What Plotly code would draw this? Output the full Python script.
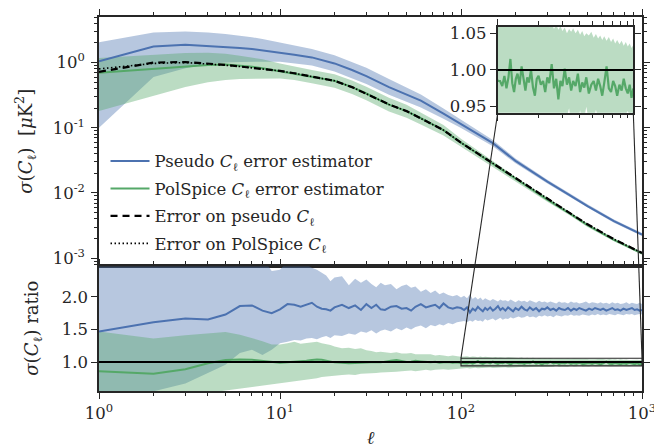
import math
import plotly.graph_objects as go

# ---------------- data ----------------
# top panel: multipole ell and sigma(C_ell) [muK^2]
ell_top = [1, 2, 3, 4, 5, 6, 7, 8, 10, 12, 15, 20, 25, 30, 40, 50, 60, 80, 100,
           150, 200, 300, 400, 500, 700, 1000]
pseudo_est = [1.05, 1.76, 1.87, 1.80, 1.72, 1.68, 1.62, 1.55, 1.42, 1.32, 1.20, 0.97,
              0.77, 0.62, 0.42, 0.32, 0.26, 0.165, 0.115, 0.058, 0.031, 0.0149,
              0.0092, 0.0063, 0.0037, 0.0023]
pseudo_est_lo = [0.10, 0.60, 0.82, 0.95, 1.00, 1.02, 1.03, 1.03, 1.03, 0.98, 0.90, 0.73,
                 0.58, 0.47, 0.32, 0.25, 0.205, 0.138, 0.099, 0.052, 0.0285, 0.0139,
                 0.0087, 0.0060, 0.0035, 0.00219]
pseudo_est_hi = [2.05, 2.90, 3.00, 2.90, 2.75, 2.60, 2.45, 2.30, 2.05, 1.85, 1.62, 1.30,
                 1.02, 0.83, 0.56, 0.42, 0.325, 0.198, 0.134, 0.065, 0.0338, 0.0160,
                 0.0098, 0.0067, 0.0039, 0.00242]
polspice_est = [0.70, 0.80, 0.87, 0.92, 0.93, 0.90, 0.86, 0.82, 0.74, 0.68, 0.61, 0.525,
                0.42, 0.335, 0.226, 0.18, 0.14, 0.092, 0.059, 0.028, 0.0163, 0.0079,
                0.0048, 0.0032, 0.0019, 0.00118]
polspice_est_lo = [0.18, 0.31, 0.42, 0.50, 0.54, 0.56, 0.57, 0.57, 0.57, 0.54, 0.48, 0.41,
                   0.33, 0.265, 0.178, 0.143, 0.112, 0.076, 0.051, 0.025, 0.0150, 0.0073,
                   0.0045, 0.0030, 0.00181, 0.00113]
polspice_est_hi = [1.17, 1.33, 1.40, 1.41, 1.36, 1.27, 1.19, 1.12, 0.97, 0.87, 0.77, 0.66,
                   0.53, 0.425, 0.288, 0.225, 0.172, 0.110, 0.068, 0.031, 0.0176, 0.0085,
                   0.0051, 0.0034, 0.00201, 0.00124]
err_pseudo = [0.72, 1.00, 1.02, 0.97, 0.92, 0.87, 0.83, 0.80, 0.745, 0.685, 0.605, 0.525,
              0.42, 0.335, 0.228, 0.18, 0.14, 0.092, 0.059, 0.0285, 0.0165, 0.0081,
              0.0049, 0.0033, 0.00195, 0.0012]
err_polspice = [0.80, 0.97, 1.00, 0.96, 0.91, 0.87, 0.83, 0.80, 0.745, 0.685, 0.605, 0.525,
                0.42, 0.335, 0.228, 0.18, 0.14, 0.092, 0.059, 0.0285, 0.0165, 0.0081,
                0.0049, 0.0033, 0.00195, 0.0012]

# bottom panel: ratio estimator / true error
ell_ratio = [1, 2, 3, 4, 5, 6, 7, 8, 9, 10, 11, 12, 13, 14, 15, 16, 17, 18, 19, 20,
             22, 24, 26, 28, 30, 32, 34, 36, 38, 41, 44, 47, 50, 53, 56, 60, 64, 68,
             72, 76, 80, 85, 90, 95, 100,
             104, 108, 112, 116, 120, 124, 128, 132, 136, 140, 145, 150, 155, 160, 165,
             170, 176, 182, 188, 194, 200, 208, 216, 224, 232, 240, 250, 260, 270, 280,
             290, 300, 312, 324, 336, 348, 360, 375, 390, 405, 420, 435, 450, 470, 490,
             510, 530, 550, 570, 590, 610, 635, 660, 685, 710, 735, 760, 790, 820, 850,
             880, 910, 940, 970, 1000]
ratio_pseudo = [1.47, 1.61, 1.67, 1.655, 1.73, 1.86, 1.87, 1.79, 1.75, 1.81, 1.89, 1.88,
                1.85, 1.88, 1.91, 1.85, 1.82, 1.81, 1.79, 1.84,
                1.88, 1.83, 1.87, 1.80, 1.89, 1.83, 1.88, 1.81, 1.80,
                1.85, 1.86, 1.82, 1.83, 1.79, 1.85,
                1.89, 1.84, 1.86, 1.88, 1.83, 1.90,
                1.84, 1.82, 1.84, 1.83,
                1.80, 1.84, 1.76, 1.82, 1.79, 1.85, 1.81, 1.78, 1.83, 1.80,
                1.84, 1.79, 1.82, 1.86, 1.80, 1.83,
                1.79, 1.84, 1.81, 1.78, 1.83,
                1.80, 1.85, 1.81, 1.79, 1.84,
                1.80, 1.83, 1.78, 1.82, 1.81, 1.84,
                1.80, 1.82, 1.79, 1.83, 1.81,
                1.80, 1.83, 1.79, 1.82, 1.80, 1.83,
                1.81, 1.79, 1.82, 1.80, 1.83, 1.81, 1.80, 1.82,
                1.79, 1.81, 1.83, 1.80, 1.81, 1.79,
                1.82, 1.80, 1.81, 1.83, 1.80, 1.81, 1.79, 1.80]
ratio_pseudo_lo = [0.30, 0.55, 0.67, 0.83, 0.96, 1.14, 1.19, 1.11, 1.19, 1.29, 1.31, 1.34,
                   1.33, 1.36, 1.37, 1.35, 1.38, 1.40, 1.37, 1.41,
                   1.40, 1.44, 1.42, 1.47, 1.45, 1.49, 1.44, 1.48, 1.50,
                   1.47, 1.52, 1.49, 1.53, 1.50, 1.54,
                   1.56, 1.52, 1.57, 1.55, 1.58, 1.56,
                   1.60, 1.58, 1.61, 1.62,
                   1.63, 1.61, 1.64, 1.62, 1.65, 1.63, 1.64, 1.62, 1.66, 1.64,
                   1.65, 1.67, 1.64, 1.66, 1.68, 1.65,
                   1.67, 1.66, 1.69, 1.67, 1.68,
                   1.70, 1.68, 1.69, 1.71, 1.69,
                   1.70, 1.68, 1.71, 1.70, 1.72, 1.70,
                   1.71, 1.69, 1.72, 1.71, 1.70,
                   1.72, 1.71, 1.73, 1.71, 1.72, 1.71,
                   1.73, 1.72, 1.71, 1.73, 1.72, 1.74, 1.72, 1.73,
                   1.72, 1.74, 1.73, 1.72, 1.74, 1.73,
                   1.72, 1.74, 1.73, 1.74, 1.72, 1.73, 1.74, 1.73]
ratio_pseudo_hi = [3.00, 3.20, 3.30, 3.10, 3.00, 2.90, 2.80, 2.60, 2.40, 2.42, 2.55, 2.60,
                   2.55, 2.50, 2.45, 2.42, 2.38, 2.33, 2.24, 2.30,
                   2.32, 2.18, 2.28, 2.22, 2.27, 2.20, 2.15, 2.22, 2.18,
                   2.20, 2.12, 2.17, 2.19, 2.14, 2.16,
                   2.08, 2.12, 2.06, 2.10, 2.04, 2.07,
                   2.03, 2.01, 2.03, 1.99,
                   2.02, 1.98, 2.04, 1.97, 2.00, 1.96, 1.99, 1.95, 1.98, 1.96,
                   1.94, 1.97, 1.95, 1.93, 1.96, 1.94,
                   1.95, 1.93, 1.96, 1.94, 1.92,
                   1.95, 1.93, 1.94, 1.92, 1.95,
                   1.93, 1.91, 1.94, 1.92, 1.93, 1.91,
                   1.93, 1.92, 1.90, 1.93, 1.91,
                   1.92, 1.90, 1.93, 1.91, 1.92, 1.90,
                   1.91, 1.93, 1.90, 1.92, 1.91, 1.90, 1.92, 1.90,
                   1.91, 1.89, 1.92, 1.90, 1.91, 1.89,
                   1.90, 1.92, 1.89, 1.91, 1.90, 1.89, 1.91, 1.89]
ratio_polspice = [0.86, 0.82, 0.89, 0.98, 1.03, 1.04, 1.035, 1.02, 1.00, 0.99, 0.995, 1.00,
                  1.01, 1.02, 1.03, 1.04, 1.035, 1.02, 1.00, 0.995,
                  0.99, 0.98, 0.985, 0.99, 1.00, 1.005, 1.00, 0.995, 1.01,
                  1.02, 1.03, 1.015, 1.00, 1.005, 1.02,
                  1.01, 1.00, 0.995, 1.005, 0.99, 0.995,
                  1.00, 0.99, 0.995, 0.985,
                  0.985, 0.978, 0.992, 0.975, 0.990, 1.015, 0.982, 0.970, 0.988, 0.995,
                  0.980, 1.005, 0.985, 0.972, 0.990, 0.983,
                  1.000, 0.976, 0.965, 0.988, 0.992,
                  0.980, 0.985, 0.970, 0.990, 0.982,
                  1.008, 0.975, 0.988, 0.960, 0.985, 0.978,
                  1.002, 0.980, 0.990, 0.972, 0.985,
                  0.978, 0.995, 0.970, 0.983, 0.976, 0.990,
                  0.968, 0.980, 0.985, 0.972, 0.988, 0.978, 0.965, 0.982,
                  1.005, 0.975, 0.970, 0.985, 0.978, 0.965,
                  0.980, 0.972, 0.988, 0.975, 0.968, 0.980, 0.962, 0.975]
ratio_polspice_lo = [0.30, 0.40, 0.48, 0.53, 0.57, 0.60, 0.62, 0.64, 0.66, 0.67, 0.69, 0.70,
                     0.71, 0.72, 0.74, 0.75, 0.77, 0.78, 0.79, 0.79,
                     0.80, 0.81, 0.80, 0.82, 0.82, 0.83, 0.83, 0.84, 0.84,
                     0.85, 0.85, 0.86, 0.86, 0.87, 0.86,
                     0.87, 0.88, 0.87, 0.88, 0.88, 0.89,
                     0.88, 0.89, 0.90, 0.90,
                     0.905, 0.910, 0.902, 0.908, 0.912, 0.906, 0.910, 0.915, 0.908, 0.912,
                     0.916, 0.910, 0.914, 0.918, 0.912, 0.916,
                     0.920, 0.914, 0.918, 0.922, 0.916,
                     0.920, 0.924, 0.918, 0.922, 0.926,
                     0.920, 0.924, 0.928, 0.922, 0.926, 0.930,
                     0.924, 0.928, 0.948, 0.926, 0.930,
                     0.934, 0.928, 0.945, 0.930, 0.934, 0.950,
                     0.930, 0.936, 0.932, 0.946, 0.934, 0.938, 0.932, 0.936,
                     0.940, 0.934, 0.938, 0.942, 0.936, 0.940,
                     0.938, 0.942, 0.936, 0.940, 0.944, 0.938, 0.942, 0.940]
ratio_polspice_hi = [1.47, 1.36, 1.41, 1.44, 1.46, 1.42, 1.37, 1.32, 1.27, 1.27, 1.29, 1.31,
                     1.28, 1.29, 1.30, 1.31, 1.29, 1.28, 1.26, 1.24,
                     1.21, 1.22, 1.20, 1.21, 1.18, 1.17, 1.15, 1.16, 1.15,
                     1.14, 1.15, 1.13, 1.13, 1.14, 1.12,
                     1.12, 1.11, 1.12, 1.10, 1.11, 1.10,
                     1.09, 1.10, 1.09, 1.08,
                     1.085, 1.090, 1.078, 1.086, 1.080, 1.075, 1.084, 1.072, 1.080, 1.074,
                     1.078, 1.070, 1.076, 1.068, 1.074, 1.070,
                     1.066, 1.073, 1.068, 1.064, 1.070,
                     1.062, 1.068, 1.060, 1.065, 1.058,
                     1.064, 1.056, 1.062, 1.055, 1.060, 1.053,
                     1.058, 1.050, 1.056, 1.052, 1.057,
                     1.050, 1.055, 1.048, 1.053, 1.046, 1.050,
                     1.047, 1.052, 1.044, 1.049, 1.043, 1.047, 1.041, 1.046,
                     1.040, 1.045, 1.038, 1.043, 1.036, 1.041,
                     1.035, 1.040, 1.033, 1.038, 1.032, 1.036, 1.030, 1.034]

# axis settings / tick labels
top_xrange = [1, 1000]
top_yrange = [7.47e-4, 5.0]
ratio_yrange = [0.555, 2.47]
inset_xrange = [100, 1000]
inset_yrange = [0.9418, 1.059]
decade_vals = [1, 10, 100, 1000]
decade_text = ["10<sup>0</sup>", "10<sup>1</sup>", "10<sup>2</sup>", "10<sup>3</sup>"]
top_yvals = [1e-3, 1e-2, 1e-1, 1]
top_ytext = ["10<sup>-3</sup>", "10<sup>-2</sup>", "10<sup>-1</sup>", "10<sup>0</sup>"]
ratio_yvals = [1.0, 1.5, 2.0]
ratio_ytext = ["1.0", "1.5", "2.0"]
inset_yvals = [0.95, 1.00, 1.05]
inset_ytext = ["0.95", "1.00", "1.05"]
reference_ratio = 1.0
top_ytitle = "<i>σ</i>(<i>C</i><sub>ℓ</sub>)  [<i>μ</i>K<sup>2</sup>]"
ratio_ytitle = "<i>σ</i>(<i>C</i><sub>ℓ</sub>) ratio"
xtitle = "<i>ℓ</i>"

# ---------------- style ----------------
BLUE = "#4C72B0"
GREEN = "#55A868"
BLUE_FILL = "rgba(76,114,176,0.4)"
GREEN_FILL = "rgba(85,168,104,0.4)"
AX = "#262626"
FONT = "DejaVu Serif"

W, H = 654, 448
ML, MR, MT, MB = 99, 12, 17, 57
split = 0.3332
inset_xdom = [0.7343, 0.9840]
inset_ydom = [0.7441, 0.9741]

minor_x = [m * d for d in (1, 10, 100) for m in range(2, 10)]
minor_y = [m * d for d in (1e-4, 1e-3, 1e-2, 1e-1, 1) for m in range(2, 10)]


def band(x, lo, hi, color, xa, ya):
    return go.Scatter(x=list(x) + list(x)[::-1], y=list(hi) + list(lo)[::-1],
                      fill="toself", fillcolor=color, mode="lines",
                      line=dict(width=0, color=color), hoverinfo="skip",
                      showlegend=False, xaxis=xa, yaxis=ya)


fig = go.Figure()

# top panel
fig.add_trace(band(ell_top, pseudo_est_lo, pseudo_est_hi, BLUE_FILL, "x", "y"))
fig.add_trace(band(ell_top, polspice_est_lo, polspice_est_hi, GREEN_FILL, "x", "y"))
fig.add_trace(go.Scatter(x=ell_top, y=pseudo_est, mode="lines",
                         line=dict(color=BLUE, width=2),
                         name="Pseudo <i>C</i><sub>ℓ</sub> error estimator",
                         legendgroup="a", xaxis="x", yaxis="y"))
fig.add_trace(go.Scatter(x=ell_top, y=polspice_est, mode="lines",
                         line=dict(color=GREEN, width=2),
                         name="PolSpice <i>C</i><sub>ℓ</sub> error estimator",
                         legendgroup="b", xaxis="x", yaxis="y"))
fig.add_trace(go.Scatter(x=ell_top, y=err_pseudo, mode="lines",
                         line=dict(color="black", width=2.2, dash="7px,5px"),
                         name="Error on pseudo <i>C</i><sub>ℓ</sub>",
                         legendgroup="c", xaxis="x", yaxis="y"))
fig.add_trace(go.Scatter(x=ell_top, y=err_polspice, mode="lines",
                         line=dict(color="black", width=1.6, dash="1.5px,2.5px"),
                         name="Error on PolSpice <i>C</i><sub>ℓ</sub>",
                         legendgroup="d", xaxis="x", yaxis="y"))

# bottom panel
fig.add_trace(band(ell_ratio, ratio_pseudo_lo, ratio_pseudo_hi, BLUE_FILL, "x2", "y2"))
fig.add_trace(band(ell_ratio, ratio_polspice_lo, ratio_polspice_hi, GREEN_FILL, "x2", "y2"))
fig.add_trace(go.Scatter(x=ell_ratio, y=ratio_pseudo, mode="lines",
                         line=dict(color=BLUE, width=2), showlegend=False,
                         xaxis="x2", yaxis="y2"))
fig.add_trace(go.Scatter(x=ell_ratio, y=ratio_polspice, mode="lines",
                         line=dict(color=GREEN, width=2), showlegend=False,
                         xaxis="x2", yaxis="y2"))

# inset
fig.add_trace(band(ell_ratio, ratio_polspice_lo, ratio_polspice_hi, GREEN_FILL, "x3", "y3"))
fig.add_trace(go.Scatter(x=ell_ratio, y=ratio_polspice, mode="lines",
                         line=dict(color=GREEN, width=2.2), showlegend=False,
                         xaxis="x3", yaxis="y3"))

# reference lines at ratio 1
for xr, yr in (("x2", "y2"), ("x3", "y3")):
    fig.add_shape(type="line", xref=f"{xr} domain", yref=yr, x0=0, x1=1,
                  y0=reference_ratio, y1=reference_ratio,
                  line=dict(color="black", width=2), layer="above")

# zoom rectangle + connectors
fig.add_shape(type="rect", xref="x2", yref="y2",
              x0=inset_xrange[0], x1=inset_xrange[1],
              y0=inset_yrange[0], y1=inset_yrange[1],
              line=dict(color=AX, width=1.1), layer="above")
lx0 = math.log10(top_xrange[0])
lx1 = math.log10(top_xrange[1])
rx_left = (math.log10(inset_xrange[0]) - lx0) / (lx1 - lx0)
rx_right = (math.log10(inset_xrange[1]) - lx0) / (lx1 - lx0)
ry_top = split * (inset_yrange[1] - ratio_yrange[0]) / (ratio_yrange[1] - ratio_yrange[0])
for rx, ix in ((rx_left, inset_xdom[0]), (rx_right, inset_xdom[1])):
    fig.add_shape(type="line", xref="paper", yref="paper",
                  x0=rx, y0=ry_top, x1=ix, y1=inset_ydom[0],
                  line=dict(color=AX, width=1.1), layer="above")

# y-axis titles as rotated text, placed like the reference
title_font = dict(family=FONT, size=18, color=AX)
fig.add_annotation(text=top_ytitle, xref="paper", yref="paper",
                   x=(25 - ML) / (W - ML - MR), y=split + (1 - split) / 2,
                   textangle=-90, showarrow=False, font=title_font,
                   xanchor="center", yanchor="middle")
fig.add_annotation(text=ratio_ytitle, xref="paper", yref="paper",
                   x=(33 - ML) / (W - ML - MR), y=split / 2,
                   textangle=-90, showarrow=False, font=title_font,
                   xanchor="center", yanchor="middle")

tickfont = dict(family=FONT, size=16.5, color=AX)
common = dict(showline=True, linecolor=AX, linewidth=1.6, ticks="outside",
              ticklen=6, tickwidth=1.3, tickcolor=AX, showgrid=False,
              zeroline=False, tickfont=tickfont, automargin=False,
              ticklabeloverflow="allow")
minor_common = dict(ticks="outside", ticklen=3.5, tickwidth=1.0, tickcolor=AX,
                    showgrid=False)

fig.update_layout(
    width=W, height=H,
    margin=dict(l=ML, r=MR, t=MT, b=MB, autoexpand=False),
    paper_bgcolor="white", plot_bgcolor="white",
    font=dict(family=FONT, size=16, color=AX),
    showlegend=True,
    legend=dict(x=0.012, y=0.661, xanchor="left", yanchor="top",
                bgcolor="rgba(0,0,0,0)", borderwidth=0,
                font=dict(family=FONT, size=16.5, color=AX),
                tracegroupgap=3, itemwidth=39),
    xaxis=dict(type="log", range=[lx0, lx1], domain=[0, 1], anchor="y",
               side="top", mirror=True, tickmode="array", tickvals=decade_vals,
               showticklabels=False,
               minor=dict(tickmode="array", tickvals=minor_x, **minor_common),
               **common),
    yaxis=dict(type="log", range=[math.log10(top_yrange[0]), math.log10(top_yrange[1])],
               domain=[split, 1], anchor="x", mirror="ticks",
               tickmode="array", tickvals=top_yvals, ticktext=top_ytext,
               ticklabelstandoff=3,
               minor=dict(tickmode="array", tickvals=minor_y, **minor_common),
               **common),
    xaxis2=dict(type="log", range=[lx0, lx1], domain=[0, 1], anchor="y2",
                mirror="ticks", tickmode="array", tickvals=decade_vals,
                ticktext=decade_text,
                minor=dict(tickmode="array", tickvals=minor_x, **minor_common),
                title=dict(text=xtitle, font=dict(family=FONT, size=18, color=AX),
                           standoff=23),
                **common),
    yaxis2=dict(range=ratio_yrange, domain=[0, split], anchor="x2", mirror="ticks",
                tickmode="array", tickvals=ratio_yvals, ticktext=ratio_ytext,
                **common),
    xaxis3=dict(type="log", range=[math.log10(inset_xrange[0]), math.log10(inset_xrange[1])],
                domain=inset_xdom, anchor="y3", mirror="ticks",
                tickmode="array", tickvals=[inset_xrange[0], inset_xrange[1]],
                showticklabels=False,
                minor=dict(tickmode="array", tickvals=minor_x, **minor_common),
                **common),
    yaxis3=dict(range=inset_yrange, domain=inset_ydom, anchor="x3", mirror="ticks",
                tickmode="array", tickvals=inset_yvals, ticktext=inset_ytext,
                **common),
)

fig.write_html("out.html")
